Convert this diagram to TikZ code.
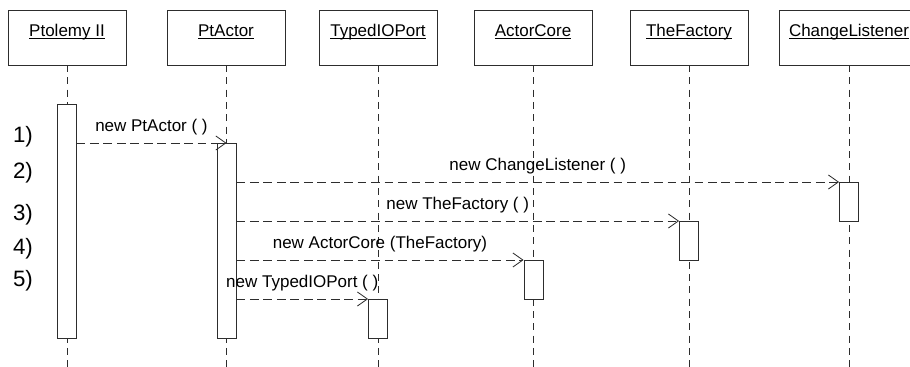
\documentclass[tikz,border=0pt]{standalone}
\usepackage{fontspec}
\setmainfont{Liberation Sans}
\usetikzlibrary{arrows.meta,positioning}
\definecolor{sqline}{RGB}{45,45,45}
\newcommand{\objname}[1]{\underline{\smash{#1}}}

\tikzset{
  objbox/.style={draw=sqline,line width=0.75pt,fill=white,inner sep=0pt,
    minimum height=55*0.03cm,font=\fontsize{14.5}{17}\selectfont},
  lifeline/.style={draw=sqline,line width=0.7pt,dash pattern=on 6pt off 4.5pt},
  actbar/.style={draw=sqline,line width=0.75pt,fill=white,anchor=north,
    inner sep=0pt,minimum width=19*0.03cm},
  msg/.style={draw=sqline,line width=0.7pt,dash pattern=on 7.5pt off 4pt,
    -{Straight Barb[length=8.5pt,width=12pt]}},
  msglabel/.style={midway,above=4.5pt,inner sep=2pt,
    font=\fontsize{14.5}{17}\selectfont},
  stepnum/.style={inner sep=0pt,font=\fontsize{19}{22}\selectfont}
}

\begin{document}
\begin{tikzpicture}[x=0.03cm,y=-0.03cm]
\useasboundingbox (0,0) rectangle (910,367);
\clip (0,0) rectangle (910,367);

% objects and their lifelines
\foreach \n/\x/\w/\t in {ptii/67/118/Ptolemy II, ptactor/226/118/PtActor,
    port/378/118/TypedIOPort, core/533/118/ActorCore,
    factory/689/118/TheFactory, listener/849/140/ChangeListener}
{
  \draw[lifeline] (\x,65) -- (\x,367);
  \node[objbox,minimum width=\w*0.03cm] (\n) at (\x,37.5) {\objname{\t}};
}

% activation bars
\node[actbar,minimum height=234*0.03cm] (ptiibar) at (66.5,104) {};
\node[actbar,minimum height=195*0.03cm] (ptactorbar) at (226.5,143) {};
\node[actbar,minimum height=39*0.03cm] (listenerbar) at (849,182) {};
\node[actbar,minimum height=39*0.03cm] (factorybar) at (689,221) {};
\node[actbar,minimum height=39*0.03cm] (corebar) at (533.5,260) {};
\node[actbar,minimum height=39*0.03cm] (portbar) at (378,299) {};

% messages
\draw[msg] (ptiibar.east |- ptactorbar.north) -- (ptactorbar.north)
  node[msglabel] (m1) {new PtActor ( )};
\draw[msg] (ptactorbar.east |- listenerbar.north) -- (listenerbar.north west)
  node[msglabel] (m2) {new ChangeListener ( )};
\draw[msg] (ptactorbar.east |- factorybar.north) -- (factorybar.north west)
  node[msglabel] (m3) {new TheFactory ( )};
\draw[msg] (ptactorbar.east |- corebar.north) -- (corebar.north west)
  node[msglabel] (m4) {new ActorCore (TheFactory)};
\draw[msg] (ptactorbar.east |- portbar.north) -- (portbar.north west)
  node[msglabel] (m5) {new TypedIOPort ( )};

% step numbers
\foreach \i/\y in {1/137,2/173,3/215,4/249,5/281}
  \node[stepnum] (num\i) at (23,\y) {\i)};

\end{tikzpicture}
\end{document}
